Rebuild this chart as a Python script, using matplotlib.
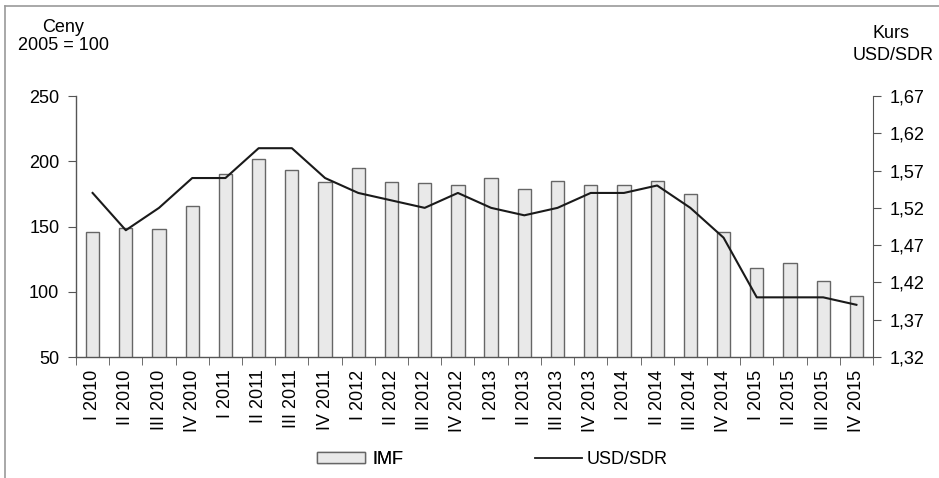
import matplotlib
matplotlib.use("Agg")
import matplotlib.pyplot as plt
from matplotlib.lines import Line2D
from matplotlib.patches import Patch
import numpy as np

plt.rcParams['font.family'] = ['Liberation Sans Narrow', 'Liberation Sans', 'DejaVu Sans']

categories = ["I 2010", "II 2010", "III 2010", "IV 2010",
              "I 2011", "II 2011", "III 2011", "IV 2011",
              "I 2012", "II 2012", "III 2012", "IV 2012",
              "I 2013", "II 2013", "III 2013", "IV 2013",
              "I 2014", "II 2014", "III 2014", "IV 2014",
              "I 2015", "II 2015", "III 2015", "IV 2015"]
imf = [146, 149, 148, 166, 190, 202, 193, 184, 195, 184, 183, 182,
       187, 179, 185, 182, 182, 185, 175, 146, 118, 122, 108, 97]
usd_sdr = [1.54, 1.49, 1.52, 1.56, 1.56, 1.60, 1.60, 1.56, 1.54, 1.53, 1.52, 1.54,
           1.52, 1.51, 1.52, 1.54, 1.54, 1.55, 1.52, 1.48, 1.40, 1.40, 1.40, 1.39]
left_ticks = [50, 100, 150, 200, 250]
right_ticks = [1.32, 1.37, 1.42, 1.47, 1.52, 1.57, 1.62, 1.67]

FS = 13
W, H = 939, 478
fig = plt.figure(figsize=(W / 100, H / 100), dpi=100)

# outer frame (partial, as in reference)
fig.add_artist(Line2D([5 / W, 5 / W], [0, 1 - 6 / H], transform=fig.transFigure, color='#9a9a9a', lw=1.2))
fig.add_artist(Line2D([5 / W, 1], [1 - 6 / H, 1 - 6 / H], transform=fig.transFigure, color='#9a9a9a', lw=1.2))

ax = fig.add_axes([76 / W, 1 - 357 / H, (873 - 76) / W, (357 - 96) / H])
x = np.arange(len(categories))
spine_col = '#555555'
bar_face, bar_edge = '#e9e9e9', '#666666'
ax.bar(x, imf, width=0.4, bottom=0, color=bar_face, edgecolor=bar_edge, linewidth=1.0, zorder=2)
ax.set_ylim(50, 250)
ax.set_xlim(-0.5, len(categories) - 0.5)
ax.set_yticks(left_ticks)
ax.set_yticklabels([str(v) for v in left_ticks], fontsize=FS)
ax.set_xticks(x)
ax.set_xticklabels(categories, rotation=90, fontsize=FS)
ax.tick_params(axis='x', which='major', length=0, pad=9)
ax.set_xticks(np.arange(-0.5, len(categories) + 0.5, 1), minor=True)
ax.tick_params(axis='x', which='minor', length=6, color=spine_col, direction='out')
ax.tick_params(axis='y', length=6, color=spine_col, direction='out', pad=6)
ax.spines['top'].set_visible(False)
ax.spines['right'].set_visible(False)
for s in ['left', 'bottom']:
    ax.spines[s].set_color(spine_col)
    ax.spines[s].set_linewidth(1.0)

ax2 = ax.twinx()
ax2.plot(x, usd_sdr, color='#1a1a1a', lw=1.5, zorder=3)
ax2.set_ylim(1.32, 1.67)
ax2.set_yticks(right_ticks)
ax2.set_yticklabels([f"{v:.2f}".replace('.', ',') for v in right_ticks], fontsize=FS)
ax2.tick_params(axis='y', length=6, color=spine_col, direction='out', pad=6)
ax2.spines['top'].set_visible(False)
ax2.spines['left'].set_visible(False)
ax2.spines['bottom'].set_visible(False)
ax2.spines['right'].set_color(spine_col)

fig.text(63 / W, 1 - 28 / H, "Ceny", ha='center', va='center', fontsize=FS)
fig.text(63 / W, 1 - 45 / H, "2005 = 100", ha='center', va='center', fontsize=FS)
fig.text(891 / W, 1 - 34 / H, "Kurs", ha='center', va='center', fontsize=FS)
fig.text(893 / W, 1 - 55 / H, "USD/SDR", ha='center', va='center', fontsize=FS)

fpx = FS * 100 / 72.0
leg1 = fig.legend(handles=[Patch(facecolor=bar_face, edgecolor=bar_edge, label='IMF')],
                  loc='center left', bbox_to_anchor=(317 / W, 1 - 459.5 / H),
                  frameon=False, fontsize=FS, handlelength=48 / fpx, handleheight=11 / fpx,
                  handletextpad=7 / fpx, borderpad=0, borderaxespad=0)
fig.add_artist(leg1)
fig.legend(handles=[Line2D([0], [0], color='#1a1a1a', lw=1.3, label='USD/SDR')],
           loc='center left', bbox_to_anchor=(535 / W, 1 - 459.5 / H),
           frameon=False, fontsize=FS, handlelength=47 / fpx,
           handletextpad=5 / fpx, borderpad=0, borderaxespad=0)

fig.savefig("out.png", dpi=100)
